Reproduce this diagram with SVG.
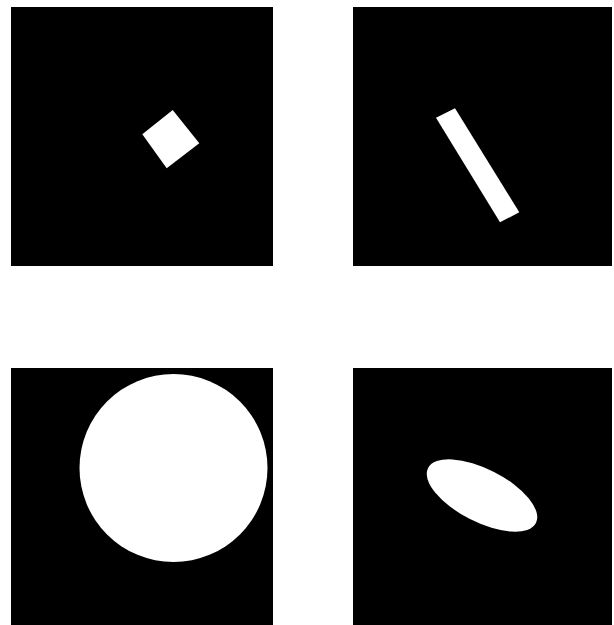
<svg xmlns="http://www.w3.org/2000/svg" width="614" height="625" viewBox="0 0 614 625">
<style>
.panel{fill:#000}
.shape{fill:#fff}
</style>
<rect width="614" height="625" fill="#fff"/>
<g id="panel-tl">
<rect class="panel" x="11" y="7" width="262" height="259"/>
<polygon class="shape" points="172.7,110 199.3,143.3 166.7,168.3 142.3,134.3"/>
</g>
<g id="panel-tr">
<rect class="panel" x="353" y="7" width="259" height="259"/>
<polygon class="shape" points="436,117.7 455,108.3 519.3,212.3 500,222.3"/>
</g>
<g id="panel-bl">
<rect class="panel" x="11" y="368" width="262" height="257"/>
<circle class="shape" cx="173.5" cy="468" r="94"/>
</g>
<g id="panel-br">
<rect class="panel" x="353" y="368" width="259" height="257"/>
<ellipse class="shape" cx="482" cy="495.5" rx="60.5" ry="26.5" transform="rotate(27 482 495.5)"/>
</g>
</svg>
